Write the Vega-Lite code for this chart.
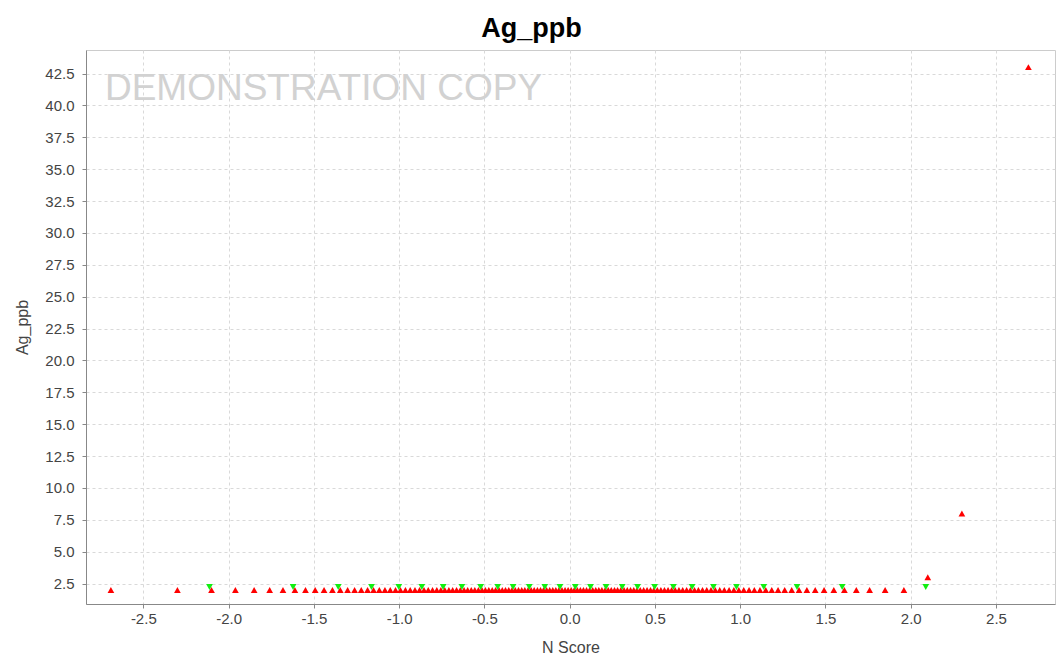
{
  "$schema": "https://vega.github.io/schema/vega-lite/v6.json",
  "autosize": "none",
  "width": 969,
  "height": 554,
  "padding": {"left": 86, "top": 50, "right": 8, "bottom": 55},
  "background": "white",
  "title": {
    "text": "Ag_ppb",
    "font": "Liberation Sans",
    "fontSize": 27,
    "fontWeight": "bold",
    "color": "#000000",
    "anchor": "middle",
    "frame": "group",
    "dx": -39,
    "dy": 27,
    "baseline": "bottom",
    "offset": 7
  },
  "config": {
    "view": {"stroke": "#cccccc", "strokeWidth": 1},
    "axis": {
      "labelFont": "Liberation Sans",
      "labelFontSize": 15,
      "labelColor": "#444444",
      "labelOverlap": false,
      "titleFont": "Liberation Sans",
      "titleFontSize": 16,
      "titleFontWeight": "normal",
      "titleColor": "#444444",
      "domainColor": "#888888",
      "tickColor": "#888888",
      "tickSize": 4,
      "grid": true,
      "gridColor": "#d9d9d9",
      "gridDash": [3, 3],
      "gridWidth": 1
    }
  },
  "datasets": {
    "red": [
      {"n": -2.69, "v": 2}, {"n": -2.30, "v": 2}, {"n": -2.10, "v": 2}, {"n": -1.96, "v": 2}, {"n": -1.85, "v": 2},
      {"n": -1.759, "v": 2}, {"n": -1.681, "v": 2}, {"n": -1.611, "v": 2}, {"n": -1.549, "v": 2}, {"n": -1.492, "v": 2},
      {"n": -1.440, "v": 2}, {"n": -1.391, "v": 2}, {"n": -1.345, "v": 2}, {"n": -1.302, "v": 2}, {"n": -1.261, "v": 2},
      {"n": -1.222, "v": 2}, {"n": -1.185, "v": 2}, {"n": -1.150, "v": 2}, {"n": -1.116, "v": 2}, {"n": -1.083, "v": 2},
      {"n": -1.052, "v": 2}, {"n": -1.021, "v": 2}, {"n": -0.992, "v": 2}, {"n": -0.963, "v": 2}, {"n": -0.935, "v": 2},
      {"n": -0.907, "v": 2}, {"n": -0.880, "v": 2}, {"n": -0.854, "v": 2}, {"n": -0.829, "v": 2}, {"n": -0.804, "v": 2},
      {"n": -0.779, "v": 2}, {"n": -0.755, "v": 2}, {"n": -0.732, "v": 2}, {"n": -0.708, "v": 2}, {"n": -0.686, "v": 2},
      {"n": -0.663, "v": 2}, {"n": -0.641, "v": 2}, {"n": -0.619, "v": 2}, {"n": -0.598, "v": 2}, {"n": -0.577, "v": 2},
      {"n": -0.556, "v": 2}, {"n": -0.535, "v": 2}, {"n": -0.514, "v": 2}, {"n": -0.494, "v": 2}, {"n": -0.474, "v": 2},
      {"n": -0.454, "v": 2}, {"n": -0.434, "v": 2}, {"n": -0.414, "v": 2}, {"n": -0.395, "v": 2}, {"n": -0.376, "v": 2},
      {"n": -0.357, "v": 2}, {"n": -0.338, "v": 2}, {"n": -0.319, "v": 2}, {"n": -0.300, "v": 2}, {"n": -0.281, "v": 2},
      {"n": -0.263, "v": 2}, {"n": -0.244, "v": 2}, {"n": -0.226, "v": 2}, {"n": -0.208, "v": 2}, {"n": -0.189, "v": 2},
      {"n": -0.171, "v": 2}, {"n": -0.153, "v": 2}, {"n": -0.135, "v": 2}, {"n": -0.117, "v": 2}, {"n": -0.099, "v": 2},
      {"n": -0.081, "v": 2}, {"n": -0.063, "v": 2}, {"n": -0.045, "v": 2}, {"n": -0.027, "v": 2}, {"n": -0.009, "v": 2},
      {"n": 0.009, "v": 2}, {"n": 0.027, "v": 2}, {"n": 0.045, "v": 2}, {"n": 0.063, "v": 2}, {"n": 0.081, "v": 2},
      {"n": 0.099, "v": 2}, {"n": 0.117, "v": 2}, {"n": 0.135, "v": 2}, {"n": 0.153, "v": 2}, {"n": 0.171, "v": 2},
      {"n": 0.189, "v": 2}, {"n": 0.208, "v": 2}, {"n": 0.226, "v": 2}, {"n": 0.244, "v": 2}, {"n": 0.263, "v": 2},
      {"n": 0.281, "v": 2}, {"n": 0.300, "v": 2}, {"n": 0.319, "v": 2}, {"n": 0.338, "v": 2}, {"n": 0.357, "v": 2},
      {"n": 0.376, "v": 2}, {"n": 0.395, "v": 2}, {"n": 0.414, "v": 2}, {"n": 0.434, "v": 2}, {"n": 0.454, "v": 2},
      {"n": 0.474, "v": 2}, {"n": 0.494, "v": 2}, {"n": 0.514, "v": 2}, {"n": 0.535, "v": 2}, {"n": 0.556, "v": 2},
      {"n": 0.577, "v": 2}, {"n": 0.598, "v": 2}, {"n": 0.619, "v": 2}, {"n": 0.641, "v": 2}, {"n": 0.663, "v": 2},
      {"n": 0.686, "v": 2}, {"n": 0.708, "v": 2}, {"n": 0.732, "v": 2}, {"n": 0.755, "v": 2}, {"n": 0.779, "v": 2},
      {"n": 0.804, "v": 2}, {"n": 0.829, "v": 2}, {"n": 0.854, "v": 2}, {"n": 0.880, "v": 2}, {"n": 0.907, "v": 2},
      {"n": 0.935, "v": 2}, {"n": 0.963, "v": 2}, {"n": 0.992, "v": 2}, {"n": 1.021, "v": 2}, {"n": 1.052, "v": 2},
      {"n": 1.083, "v": 2}, {"n": 1.116, "v": 2}, {"n": 1.150, "v": 2}, {"n": 1.185, "v": 2}, {"n": 1.222, "v": 2},
      {"n": 1.261, "v": 2}, {"n": 1.302, "v": 2}, {"n": 1.345, "v": 2}, {"n": 1.391, "v": 2}, {"n": 1.440, "v": 2},
      {"n": 1.492, "v": 2}, {"n": 1.549, "v": 2}, {"n": 1.611, "v": 2}, {"n": 1.681, "v": 2}, {"n": 1.759, "v": 2},
      {"n": 1.85, "v": 2}, {"n": 1.96, "v": 2}, {"n": 2.10, "v": 3}, {"n": 2.30, "v": 8}, {"n": 2.69, "v": 43}
    ],
    "green": [
      {"n": -2.10, "v": 2}, {"n": -1.61, "v": 2}, {"n": -1.345, "v": 2}, {"n": -1.15, "v": 2}, {"n": -0.99, "v": 2},
      {"n": -0.855, "v": 2}, {"n": -0.73, "v": 2}, {"n": -0.62, "v": 2}, {"n": -0.51, "v": 2}, {"n": -0.41, "v": 2},
      {"n": -0.32, "v": 2}, {"n": -0.225, "v": 2}, {"n": -0.134, "v": 2}, {"n": -0.045, "v": 2},
      {"n": 0.045, "v": 2}, {"n": 0.134, "v": 2}, {"n": 0.225, "v": 2}, {"n": 0.32, "v": 2}, {"n": 0.41, "v": 2},
      {"n": 0.51, "v": 2}, {"n": 0.62, "v": 2}, {"n": 0.73, "v": 2}, {"n": 0.855, "v": 2}, {"n": 0.99, "v": 2},
      {"n": 1.15, "v": 2}, {"n": 1.345, "v": 2}, {"n": 1.61, "v": 2}, {"n": 2.10, "v": 2}
    ],
    "mark": [{"label": "DEMONSTRATION COPY"}]
  },
  "layer": [
    {
      "data": {"name": "red"},
      "mark": {"type": "point", "shape": "triangle-up", "filled": true, "color": "#ff0000", "size": 45, "opacity": 1},
      "encoding": {
        "x": {
          "field": "n", "type": "quantitative", "title": "N Score",
          "scale": {"domain": [-2.836, 2.846], "nice": false, "zero": false},
          "axis": {"values": [-2.5, -2.0, -1.5, -1.0, -0.5, 0.0, 0.5, 1.0, 1.5, 2.0, 2.5], "tickCount": 20, "labelExpr": "replace(format(datum.value, '.1f'), '\u2212', '-')", "labelPadding": 3, "titlePadding": 13, "grid": true}
        },
        "y": {
          "field": "v", "type": "quantitative", "title": "Ag_ppb",
          "scale": {"domain": [0.9, 44.35], "nice": false, "zero": false},
          "axis": {"values": [2.5, 5, 7.5, 10, 12.5, 15, 17.5, 20, 22.5, 25, 27.5, 30, 32.5, 35, 37.5, 40, 42.5], "tickCount": 30, "format": ".1f", "labelOverlap": false, "labelPadding": 8, "titlePadding": 14, "grid": true}
        }
      }
    },
    {
      "data": {"name": "green"},
      "mark": {"type": "point", "shape": "triangle-down", "filled": true, "color": "#11ee11", "size": 45, "opacity": 1, "xOffset": -2, "yOffset": -3},
      "encoding": {
        "x": {"field": "n", "type": "quantitative"},
        "y": {"field": "v", "type": "quantitative"}
      }
    },
    {
      "data": {"name": "mark"},
      "mark": {"type": "text", "font": "Liberation Sans", "fontSize": 37, "color": "#d2d2d2", "align": "left", "baseline": "alphabetic"},
      "encoding": {
        "text": {"field": "label", "type": "nominal"},
        "x": {"datum": -2.725, "type": "quantitative"},
        "y": {"datum": 40.45, "type": "quantitative"}
      }
    }
  ]
}
